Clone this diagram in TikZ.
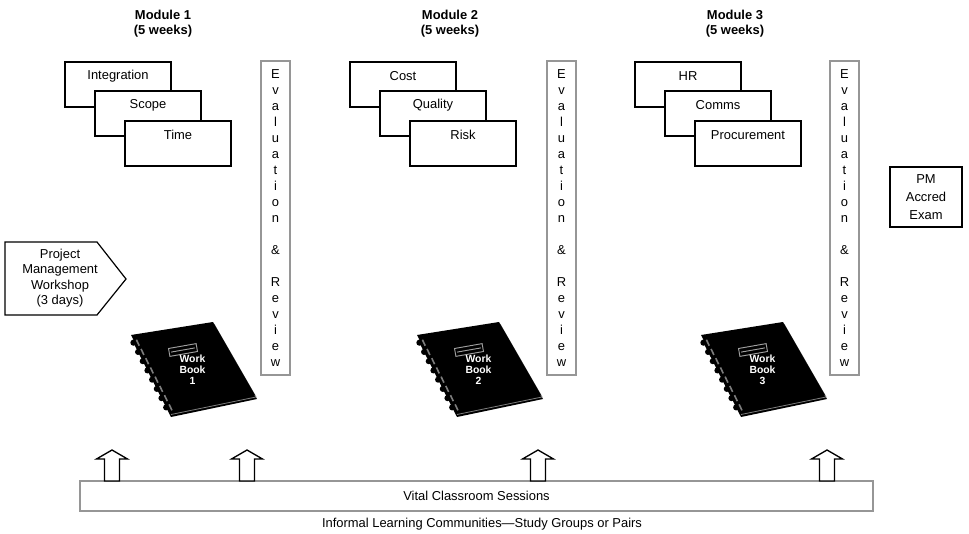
\documentclass[tikz,border=0pt]{standalone}
\usepackage{fontspec}
\setmainfont{Liberation Sans}
\usetikzlibrary{calc}

\definecolor{framegray}{RGB}{150,150,150}
\definecolor{coilgray}{RGB}{125,125,125}

\tikzset{
  topicbox/.style={draw, line width=1.1pt, fill=white},
  evalbox/.style={draw=framegray, line width=1.1pt, fill=white, align=center,
    minimum width=21.75pt, minimum height=235.5pt, font=\fontsize{9.7}{12}\selectfont},
  upblock/.style={draw, line width=1pt, fill=white, line join=miter},
  booklabel/.style={text=white, align=center, font=\fontsize{7.8}{8.25}\selectfont\bfseries},
}

\begin{document}
\begin{tikzpicture}[x=0.75pt,y=-0.75pt,
    every node/.append style={inner sep=0pt, font=\fontsize{9.7}{11.5}\selectfont}]
  \useasboundingbox (0,0) rectangle (969,534);

  % module headings
  \foreach \m/\x in {1/163,2/450,3/735}
    \node[align=center, font=\fontsize{9.7}{11.25}\selectfont\bfseries] (mod\m) at (\x,23.5) {Module \m\\(5 weeks)};

  % stacked topic boxes
  \foreach \x/\a/\b/\c in {65/Integration/Scope/Time,350/Cost/Quality/Risk,635/HR/Comms/Procurement} {
    \draw[topicbox] (\x,62) rectangle ++(106,45);
    \node (topic\x a) at (\x+53,76) {\a};
    \draw[topicbox] (\x+30,91) rectangle ++(106,45);
    \node (topic\x b) at (\x+83,105) {\b};
    \draw[topicbox] (\x+60,121) rectangle ++(106,45);
    \node (topic\x c) at (\x+113,135) {\c};
  }

  % evaluation columns
  \foreach \e/\x in {1/275.5,2/561.5,3/844.5}
    \node[evalbox] (eval\e) at (\x,218)
      {E\\v\\a\\l\\u\\a\\t\\i\\o\\n\\[12pt]\&\\[12pt]R\\e\\v\\i\\e\\w};

  % workshop
  \draw[line width=0.9pt] (5,242) -- (97,242) -- (126,279) -- (97,315) -- (5,315) -- cycle;
  \node[align=center] (workshop) at (60,278) {Project\\Management\\Workshop\\(3 days)};

  % exam
  \node[draw, line width=1.1pt, align=center, minimum width=54pt, minimum height=45pt,
    font=\fontsize{9.7}{13.5}\selectfont] (exam) at (926,197) {PM\\Accred\\Exam};

  % workbooks
  \foreach \dx/\n in {0/1,286/2,570/3} {
    \begin{scope}[shift={(\dx,0)}]
      \fill (132,340) -- (214,327) -- (257,399) -- (171,417) -- cycle;
      \draw[coilgray, line width=0.6pt] (171,414.5) -- (256,397) -- (214,324);
      \fill (131,335) -- (213,322) -- (255,395) -- (170,412) -- cycle;
      \foreach \t in {0.1,0.22,...,0.95} {
        \fill ($(131,335)!\t!(170,412)$) ++(-1.5,0) circle (2.3pt);
        \draw[coilgray, line width=1.2pt] ($(131,335)!\t!(170,412)+(1.5,-3)$) -- ++(2.8,6);
      }
      \draw[gray!75, line width=0.7pt, rotate around={10:(183,350)}]
        (169,346) rectangle (197,354) (171,350) -- (195,350);
      \node[booklabel] (book\n) at (192.5,370) {Work\\Book\\\n};
    \end{scope}
  }

  % classroom sessions bar
  \node[draw=framegray, line width=1.1pt, minimum width=594.75pt, minimum height=22.5pt] (vital) at (476.5,496) {Vital Classroom Sessions};
  \foreach \x in {112,247,538,827}
    \draw[upblock] (\x-7.5,481) -- (\x-7.5,459) -- (\x-15.5,459) -- (\x,450)
      -- (\x+15.5,459) -- (\x+7.5,459) -- (\x+7.5,481) -- cycle;
  \node (informal) at (482,524) {Informal Learning Communities---Study Groups or Pairs};
\end{tikzpicture}
\end{document}
